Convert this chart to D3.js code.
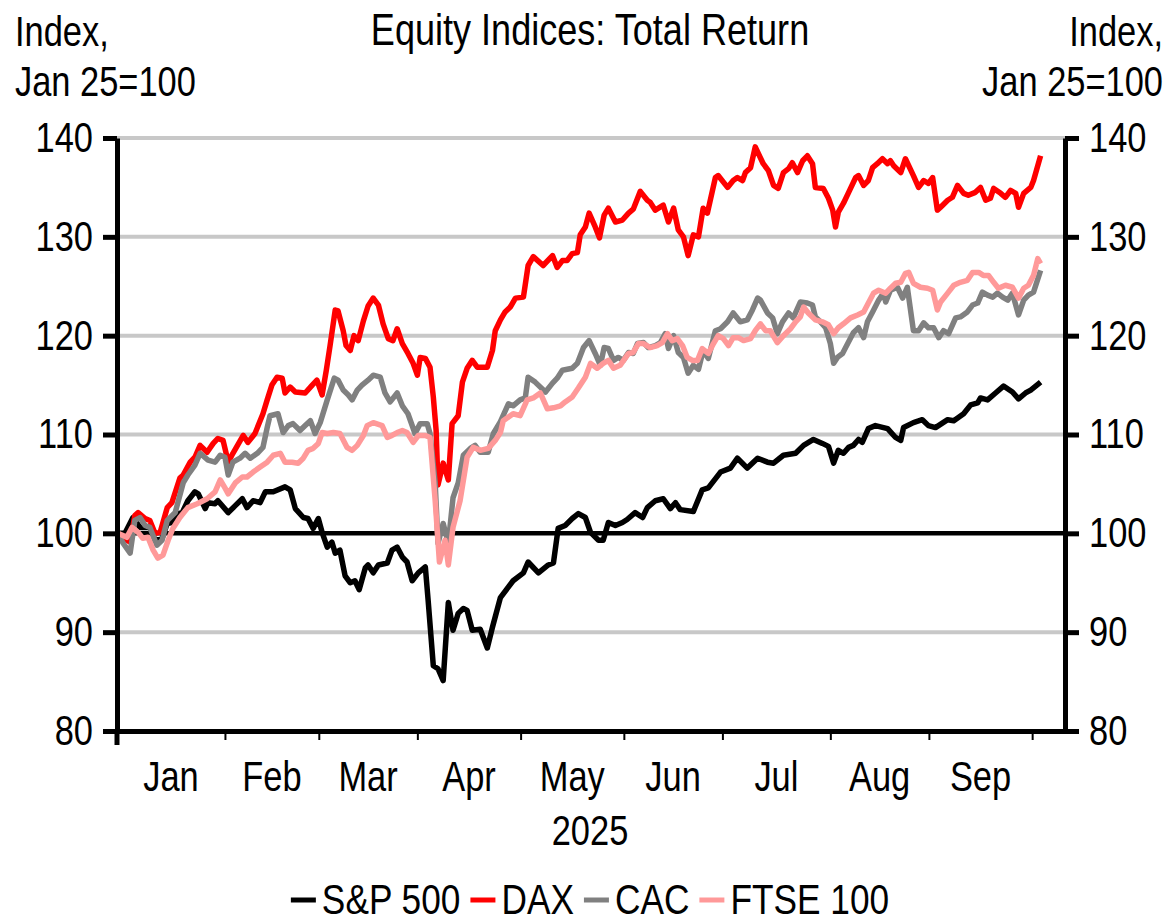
<!DOCTYPE html>
<html>
<head>
<meta charset="utf-8">
<script src="https://cdn.jsdelivr.net/npm/d3@7"></script>
<style>
body { margin: 0; background: #fff; }
svg text { font-family: "Liberation Sans", Arial, sans-serif; fill: #000; }
</style>
</head>
<body>
<svg id="chart" width="1168" height="924"></svg>
<script>
// x values are business days counted from 1 Jan 2025
const monthNames = ["Jan", "Feb", "Mar", "Apr", "May", "Jun", "Jul", "Aug", "Sep"];
const yTicks = [80, 90, 100, 110, 120, 130, 140];
const seriesNames = ["S&P 500", "DAX", "CAC", "FTSE 100"];
const seriesColors = ["#000000", "#ff0000", "#808080", "#ff9999"];

const spx = [[0,100],[1.7,100],[3.4,101.6],[4.9,100.6],[7,100.6],[8.1,99.3],[9.6,99.5],[10.7,101],[11.7,101.1],[13,102],[13.9,102.1],[15.1,103.3],[16.6,104.2],[17.3,104],[18.8,102.5],[19.4,103.1],[20.9,103],[21.5,103.3],[23.7,102.1],[25.2,102.8],[26.7,103.5],[27.7,102.6],[29,103.3],[30.5,103.1],[31.6,104.2],[33.3,104.2],[35.8,104.7],[36.9,104.4],[38,102.5],[39.7,101.6],[40.7,101.5],[41.8,100.5],[42.9,101.5],[43.7,100.1],[44.8,98.6],[45.8,99.1],[46.5,98],[47.5,98.3],[48.6,95.7],[49.7,95],[50.7,95.2],[51.6,94.3],[52.9,96.5],[53.5,96.8],[54.6,96],[55.7,96.8],[57.6,97],[58.6,98.3],[59.7,98.6],[60.8,97.6],[61.8,97.1],[62.9,95.2],[64.2,96],[65.7,96.6],[66.3,93.2],[67.4,86.6],[68.4,86.3],[69.5,85.1],[70.6,93],[71.6,90.2],[72.7,91.9],[73.8,92.4],[74.6,92.2],[75.7,90.2],[77.4,90.3],[78.9,88.4],[80,90.5],[81.7,93.5],[84.4,95.2],[86.6,96],[87.6,97.1],[89.8,96],[91.9,96.8],[93,97],[94,100.5],[95.5,100.8],[97,101.5],[98.3,102],[99.8,101.6],[100.9,100.1],[102.6,99.3],[103.6,99.3],[104.7,101.1],[106.2,100.8],[107.7,101.1],[108.7,101.4],[110.4,102.1],[112,101.6],[113,102.6],[114.7,103.3],[116.4,103.5],[117.9,102.5],[119,103.1],[120,102.4],[122.8,102.2],[124.7,104.4],[126,104.6],[128.6,106.2],[130.7,106.6],[132.2,107.6],[134.3,106.6],[136.5,107.6],[138.6,107.2],[139.9,107.1],[142,107.9],[144.6,108.1],[146.3,108.9],[148.4,109.5],[150.3,109.1],[151.6,108.8],[152.7,107.1],[153.7,108.4],[154.8,108.1],[155.9,108.7],[156.9,108.9],[158,109.5],[158.8,109.2],[160.1,110.6],[161.6,110.9],[164.2,110.6],[165.9,109.7],[167,109.4],[167.6,110.7],[169.7,111.2],[171.6,111.5],[172.9,110.9],[174.4,110.7],[177,111.5],[178.3,111.4],[180.4,112.1],[181.9,113],[183.4,113.2],[184,113.7],[185.5,113.5],[187.2,114.2],[188.9,114.9],[190.8,114.3],[192.1,113.6],[193.6,114.2],[194.7,114.5],[196.8,115.3]];

const dax = [[0.2,100],[2.1,99.3],[2.8,99.1],[3.8,101.8],[4.5,102.1],[6,101.5],[7,101.3],[8.1,100],[9.2,100.1],[10.7,102.6],[11.7,103.1],[13.4,105.6],[14.1,105.9],[15.6,107.2],[16.6,107.7],[17.7,108.9],[19.2,108.2],[20.5,109.1],[21.5,109.6],[22.6,109.4],[23.7,107.2],[24.7,108.1],[26.9,109.9],[27.9,109.2],[29.4,110.1],[31.1,112.1],[32,113.5],[33,115],[34.1,115.8],[35.2,115.7],[35.8,114.2],[36.9,114.8],[38,114.3],[40.1,114.2],[41.6,115],[42.6,115.5],[43.7,114],[44.6,116.5],[45.4,119],[46.5,122.6],[47.1,122.5],[48.2,120.5],[48.8,119],[49.7,118.5],[50.5,120],[51.4,119.5],[52.5,121.5],[53.5,123],[54.6,123.8],[55.7,123.1],[56.7,121.2],[57.8,119.7],[58.8,119.5],[59.7,120.7],[60.8,119.2],[62,118.2],[63.1,117.2],[64,116],[64.6,117.8],[65.7,117.7],[66.7,116.8],[67.4,113.8],[68,110.4],[68.4,104.9],[69.5,107.1],[70.6,105.4],[71.4,111.1],[72.7,111.9],[73.6,115.3],[74.6,116.7],[75.7,117.5],[76.8,116.8],[78.9,116.8],[80,118.5],[80.6,120.5],[81.7,121.6],[82.7,122.4],[83.8,122.9],[84.9,123.8],[86.6,123.9],[87.6,127.1],[88.7,128],[90.8,127.1],[92.8,128.1],[93.8,126.9],[94.9,127.6],[95.9,127.6],[97,128.3],[98.1,128.4],[98.7,130.2],[99.8,131],[100.6,132.4],[101.9,131],[102.8,129.9],[103.8,132.2],[104.7,132.9],[106.2,131.5],[107.7,131.7],[109,132.4],[110,132.8],[111.5,134.6],[113,133.7],[113.6,133.5],[114.7,132.7],[116.4,133.2],[117.5,131.5],[118.6,132.9],[119.6,130.7],[120.7,130],[121.7,128.1],[122.8,130.2],[123.9,130],[124.9,132.9],[125.8,132.4],[127.5,136],[128.1,136.2],[130.1,135],[131.3,135.7],[132.2,136],[133.3,135.7],[133.9,136.5],[135,137],[136,139.1],[137.7,137.4],[138.8,136.7],[139.9,135.2],[140.9,134.9],[142,136.5],[143.1,136.9],[143.9,137.5],[145,136.5],[146.1,137.7],[147.1,138.2],[148.2,137.4],[148.8,135],[150.5,134.9],[151.6,133.9],[152.5,132.7],[153.1,131],[153.7,132.5],[154.8,133.4],[155.9,134.5],[157.4,136],[158,136.2],[159.1,135.2],[160.1,135.7],[161,137],[162,137.4],[163.1,137.9],[164.2,137.4],[164.8,137.7],[165.5,137.2],[167,136.5],[168,137.9],[169.7,136.2],[170.8,135],[171.9,135.7],[172.9,135.4],[173.8,136],[174.8,132.7],[175.5,133],[177,133.7],[178,134],[179.1,135.2],[180.4,134.4],[181.4,134.2],[182.9,134.5],[184,135],[185.1,133.7],[186.1,133.9],[186.8,134.9],[188.3,134.4],[189.3,134],[190.4,134.7],[191.5,134.4],[192.1,133],[193.2,134.4],[194.7,135],[195.3,135.7],[196.8,138.2]];

const cac = [[0.2,100],[1.3,99],[2.8,98],[3.8,101.3],[4.9,101.6],[6,100.8],[7,100.6],[8.5,98.8],[9.6,99.3],[10.7,101.3],[12.4,102.1],[14.1,105.1],[15.1,105.9],[16.6,106.9],[17.7,108.1],[19.4,107.4],[20.9,107.2],[22,107.9],[23,107.7],[23.7,105.9],[24.7,107.2],[26.2,107.6],[27.3,108.1],[28.4,107.6],[29.9,108.1],[31.1,108.7],[32,110.7],[32.6,111.9],[34.3,112.1],[35.4,110.2],[36.5,110.9],[37.5,111.1],[39,110.4],[40.1,110.9],[41.2,111.4],[42.2,110.1],[43.3,111.2],[44.8,113.5],[46.3,115.7],[47.1,115.5],[48.2,114.5],[49.3,114],[50.1,113.5],[51.2,114.5],[52.2,115],[53.5,115.5],[54.6,116],[56.1,115.8],[57.1,114.2],[58.2,113.3],[59.7,114.2],[60.8,112.9],[62,112.1],[63.5,110.1],[64.6,111.1],[66.1,111.1],[66.7,110.1],[67.8,105.1],[68.4,99],[69.5,101],[70.6,99],[71.6,103.6],[72.7,105.1],[73.8,107.9],[75.3,108.6],[76.3,108.9],[77.4,108.2],[79.1,108.2],[80.2,110.1],[81.7,111.3],[83.4,113.1],[84.4,112.9],[85.9,113.5],[87,113.7],[87.6,115.8],[89.1,115.3],[91.3,114.3],[92.8,115.2],[93.8,115.7],[94.9,116.5],[97,116.7],[98.1,117.2],[99.4,118.8],[100.6,119.5],[101.9,118.2],[103,117],[103.8,118.8],[104.7,118.7],[105.8,117.5],[106.8,117.8],[107.9,117.5],[109,118.3],[110,118.2],[110.9,119.2],[112.2,119.3],[113.2,118.8],[114.7,119],[115.8,119.3],[116.8,120.2],[117.5,118.7],[118.6,120],[119.6,118.3],[120.7,117.8],[121.7,116.2],[122.8,117],[123.9,116.6],[124.9,118.5],[126,117.7],[127.5,120.5],[128.6,120.7],[130.1,121.4],[131.3,122.3],[132.8,121.4],[134.3,121.6],[135.4,122.6],[136.5,123.8],[137.1,123.6],[138.6,122.3],[139.7,121.8],[140.7,120.2],[141.8,121.4],[143.1,122.3],[144.1,121.8],[145.6,123.4],[147.1,123.3],[148.2,123.1],[148.8,121.9],[149.9,121.4],[151,120.8],[152,119.2],[152.7,117.2],[153.5,117.8],[154.6,118.2],[155.7,119.2],[156.9,120.3],[158,120.8],[159.1,119.8],[159.9,121.4],[161,122.4],[162.3,123.6],[163.3,124.3],[163.8,123.4],[164.8,124.6],[166.3,124.9],[167.4,123.8],[168.4,124.9],[169.7,120.5],[170.8,120.5],[171.9,121.3],[172.9,120.8],[174,120.8],[175.1,119.8],[176.1,120.5],[177.2,120.2],[178.7,121.8],[179.7,121.9],[181.2,122.4],[182.3,123.1],[183.4,123.3],[184.4,124.4],[185.5,124.1],[186.6,123.9],[187.6,124.3],[188.7,123.9],[189.8,123.6],[190.8,124.3],[192.1,122.1],[193.2,123.6],[194.2,124.1],[195.3,124.4],[196.8,126.6]];

const ftse = [[0.2,100],[2.1,99.6],[3.2,100.6],[4.5,100.1],[5.5,99.5],[6.6,99.6],[7.7,98.3],[8.7,97.5],[9.8,97.8],[10.9,99.3],[11.9,100.5],[13.4,101.6],[15.1,102.6],[17.1,103],[19.2,103.5],[20.9,104.2],[22,105.4],[23,104.6],[23.7,104],[25.2,105.1],[26.7,105.7],[27.7,105.7],[29,106.2],[30.5,106.7],[32,107.2],[33.3,107.9],[34.8,108.1],[35.8,107.2],[37.3,107.2],[38.6,107.1],[39.7,107.6],[40.7,108.4],[41.8,108.6],[42.9,109.1],[43.7,110.2],[44.8,110.1],[46.1,110.2],[47.5,110.1],[49,108.7],[50.1,108.4],[51.2,108.9],[52.5,109.9],[53.3,110.9],[54.6,111.2],[56.5,110.9],[57.6,109.7],[58.6,109.9],[59.7,110.2],[60.8,110.4],[61.8,110.2],[63.1,109.2],[64.2,109.9],[65.7,109.9],[66.7,109.7],[67.8,103.3],[68.7,97.1],[69.9,99.3],[70.6,96.8],[71.6,100.6],[73.1,103.3],[74.6,107.7],[75.9,108.7],[77.4,108.4],[79.1,108.6],[80.6,109.4],[81.7,110.2],[82.3,111.4],[84.4,112.1],[85.9,111.9],[87.4,113.5],[88.7,113.7],[90.2,114.2],[91.7,112.6],[93,112.7],[94.5,112.9],[95.5,113.3],[97,113.8],[98.3,114.7],[99.8,115.8],[100.9,117.2],[102.3,116.7],[103.6,117.2],[104.7,117.5],[105.8,116.7],[107.2,117],[109,118.2],[110,118.3],[111.1,119.2],[112.2,119.2],[113.6,118.8],[115.1,119],[116.2,119.3],[117.3,120.2],[118.3,119.5],[119.4,119.7],[120.5,119],[121.5,117.8],[122.6,117.5],[123.7,117.5],[124.7,118.7],[126,118.2],[127.1,119.2],[128.1,120],[129.2,119.7],[130.3,119],[131.3,119.8],[132.4,119.8],[133.5,119.5],[135,119.7],[136,120.5],[137.1,121.2],[138.2,120.5],[139.2,120.5],[140.7,119.3],[142,120],[143.5,120.7],[144.6,121.4],[145.6,121.9],[146.3,122.9],[147.3,122.3],[148.8,121.6],[150.3,121.4],[151.6,121.1],[152.7,120.2],[153.7,120.8],[154.8,121.2],[156.3,121.8],[157.8,122.1],[159.1,122.4],[160.1,123.3],[161.2,124.3],[162.3,124.6],[163.8,124.3],[164.8,124.8],[165.9,125.3],[167,125.4],[168,126.3],[168.7,126.4],[169.7,125.3],[171.2,124.9],[172.7,124.8],[173.8,124.6],[174.8,122.6],[175.5,123.4],[177,124.3],[178.3,125.1],[179.7,125.4],[181.2,125.6],[182.3,126.4],[183.6,126.4],[184.6,126.1],[185.7,126.1],[186.8,125.4],[187.8,124.8],[189.3,125.1],[190.8,124.9],[192.1,123.8],[193.2,124.8],[194.2,125.1],[195.3,126.1],[196.2,127.8],[196.8,127.3]];

const allSeries = [spx, dax, cac, ftse];

// business-day index of the first day of each month, Jan..Oct
const monthStarts = [];
let bd = 0;
for (let dt = new Date(2025, 0, 1); dt < new Date(2025, 9, 2); dt.setDate(dt.getDate() + 1)) {
    if (dt.getDate() === 1) monthStarts.push(bd);
    const wd = dt.getDay();
    if (wd !== 0 && wd !== 6) bd++;
}

const plotLeft = 117, plotRight = 1065, plotTop = 138, plotBottom = 731;
const fs = 42;
const squeeze = 0.82; // no narrow font installed, so squeeze the sans horizontally

// move x/y into a transform so text can be narrowed around its anchor
function condense(sel) {
    sel.each(function () {
        const t = d3.select(this);
        const tx = +t.attr("x") || 0, ty = +t.attr("y") || 0;
        t.attr("x", 0).attr("y", 0)
            .attr("transform", "translate(" + tx + "," + ty + ") scale(" + squeeze + ",1)");
    });
}

const svg = d3.select("#chart");
const x = d3.scaleLinear().domain([0, 202]).range([plotLeft, plotRight]);
const y = d3.scaleLinear().domain([80, 140]).range([plotBottom, plotTop]);

// gridlines
svg.append("g")
    .selectAll("line")
    .data(yTicks.filter(d => d !== 100))
    .join("line")
    .attr("x1", plotLeft)
    .attr("x2", plotRight)
    .attr("y1", d => y(d))
    .attr("y2", d => y(d))
    .attr("stroke", "#c8c8c8")
    .attr("stroke-width", 4);

svg.append("line")
    .attr("x1", plotLeft).attr("x2", plotRight)
    .attr("y1", y(100)).attr("y2", y(100))
    .attr("stroke", "#000")
    .attr("stroke-width", 4.5);

// series
const line = d3.line().x(d => x(d[0])).y(d => y(d[1]));
allSeries.forEach(function (s, i) {
    svg.append("path")
        .datum(s)
        .attr("d", line)
        .attr("fill", "none")
        .attr("stroke", seriesColors[i])
        .attr("stroke-width", 5.5)
        .attr("stroke-linejoin", "round");
});

// axes
const yl = svg.append("g")
    .attr("transform", "translate(" + plotLeft + ",0)")
    .call(d3.axisLeft(y).tickValues(yTicks).tickSize(14).tickSizeOuter(0).tickPadding(10));
const yr = svg.append("g")
    .attr("transform", "translate(" + plotRight + ",0)")
    .call(d3.axisRight(y).tickValues(yTicks).tickSize(14).tickSizeOuter(0).tickPadding(10));
[yl, yr].forEach(function (g) {
    g.select(".domain").attr("stroke-width", 5);
    g.selectAll(".tick line").attr("stroke-width", 5);
    g.selectAll(".tick text").style("font-size", fs + "px").call(condense);
});

const xa = svg.append("g")
    .attr("transform", "translate(0," + plotBottom + ")")
    .call(d3.axisBottom(x).tickValues(monthStarts).tickSize(9).tickSizeOuter(0).tickFormat(""));
xa.select(".domain").attr("stroke-width", 5);
xa.selectAll(".tick line").attr("stroke-width", 2);
xa.append("line")
    .attr("x1", plotLeft).attr("x2", plotLeft)
    .attr("y1", 0).attr("y2", 14)
    .attr("stroke", "#000")
    .attr("stroke-width", 5);

svg.append("g")
    .selectAll("text")
    .data(monthNames)
    .join("text")
    .attr("x", (d, i) => (x(monthStarts[i]) + x(monthStarts[i + 1])) / 2)
    .attr("y", 791)
    .attr("text-anchor", "middle")
    .style("font-size", fs + "px")
    .text(d => d)
    .call(condense);

svg.append("text")
    .attr("x", 590).attr("y", 845)
    .attr("text-anchor", "middle")
    .style("font-size", fs + "px")
    .text("2025")
    .call(condense);

// titles
svg.append("text")
    .attr("x", 590).attr("y", 45)
    .attr("text-anchor", "middle")
    .style("font-size", "44px")
    .text("Equity Indices: Total Return")
    .call(condense);

[["Index,", 46], ["Jan 25=100", 96]].forEach(function (t) {
    svg.append("text").attr("x", 15).attr("y", t[1])
        .style("font-size", fs + "px").text(t[0]).call(condense);
    svg.append("text").attr("x", 1163).attr("y", t[1])
        .attr("text-anchor", "end")
        .style("font-size", fs + "px").text(t[0]).call(condense);
});

// legend
const leg = svg.append("g");
let lx = 0;
seriesNames.forEach(function (name, i) {
    leg.append("line")
        .attr("x1", lx).attr("x2", lx + 25)
        .attr("y1", 900).attr("y2", 900)
        .attr("stroke", seriesColors[i])
        .attr("stroke-width", 5);
    const t = leg.append("text")
        .attr("x", lx + 31).attr("y", 914)
        .style("font-size", "43px")
        .text(name);
    const w = t.node().getComputedTextLength() * squeeze;
    t.call(condense);
    lx += 31 + w + 10;
});
leg.attr("transform", "translate(" + (590 - (lx - 10) / 2) + ",0)");
</script>
</body>
</html>
